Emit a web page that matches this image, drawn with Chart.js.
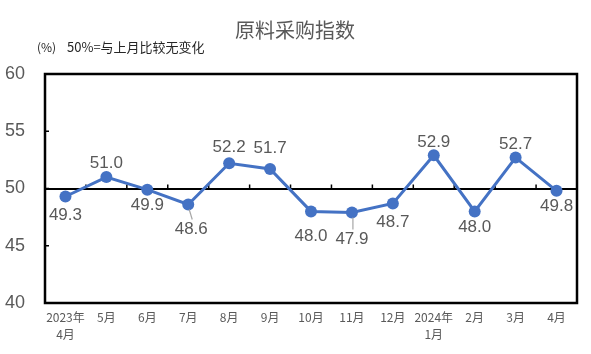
<!DOCTYPE html>
<html>
<head>
<meta charset="utf-8">
<script src="https://cdn.jsdelivr.net/npm/chart.js@4/dist/chart.umd.min.js"></script>
<style>
  html, body { margin: 0; padding: 0; background: #fff; }
  #wrap { width: 591px; height: 354px; }
</style>
</head>
<body>
<div id="wrap"><canvas id="chart" width="591" height="354"></canvas></div>
<script>
// data
var months = [['2023年', '4月'], '5月', '6月', '7月', '8月', '9月', '10月', '11月', '12月', ['2024年', '1月'], '2月', '3月', '4月'];
var pmiValues = [49.3, 51.0, 49.9, 48.6, 52.2, 51.7, 48.0, 47.9, 48.7, 52.9, 48.0, 52.7, 49.8];
var yTicks = [40, 45, 50, 55, 60];

var chartTitle = '原料采购指数';
var unitNote = '(%)';
var baseNote = '50%=与上月比较无变化';

// label offsets (px from the point), leader lines where Excel drew them
var labelDy = [19, -14, 16, 25, -16, -21, 25, 27, 19, -13, 16, -13, 16];
var labelDx = [0, 0, 0, 3, 0, 0, 0, 0, 0, 0, 0, 0, 0];
var leader = [false, false, false, true, false, false, false, true, false, false, false, false, false];

var boxPlugin = {
  id: 'boxPlugin',
  beforeDatasetsDraw: function(chart) {
    var ctx = chart.ctx, a = chart.chartArea;
    var x = chart.scales.x, y = chart.scales.y;
    var y50 = y.getPixelForValue(50);
    ctx.save();
    ctx.strokeStyle = '#000';
    ctx.lineWidth = 1.5;
    // small ticks on the 50 line between categories
    ctx.beginPath();
    for (var i = 1; i < months.length; i++) {
      var bx = (x.getPixelForValue(i - 1) + x.getPixelForValue(i)) / 2;
      ctx.moveTo(bx, y50);
      ctx.lineTo(bx, y50 - 4);
    }
    // inward ticks on the left edge
    yTicks.forEach(function(v) {
      var py = y.getPixelForValue(v);
      ctx.moveTo(a.left, py);
      ctx.lineTo(a.left + 4, py);
    });
    ctx.stroke();
    ctx.lineWidth = 2.5;
    ctx.strokeRect(a.left, a.top, a.right - a.left, a.bottom - a.top);
    ctx.restore();
  },
  afterDatasetsDraw: function(chart) {
    var ctx = chart.ctx;
    var meta = chart.getDatasetMeta(0);
    ctx.save();
    ctx.font = '17px "Liberation Sans", Arial, sans-serif';
    ctx.fillStyle = '#595959';
    ctx.textAlign = 'center';
    ctx.textBaseline = 'middle';
    meta.data.forEach(function(pt, i) {
      var lx = pt.x + labelDx[i], ly = pt.y + labelDy[i];
      if (leader[i]) {
        ctx.strokeStyle = '#a6a6a6';
        ctx.lineWidth = 1.2;
        ctx.beginPath();
        ctx.moveTo(pt.x + 1, pt.y + 5);
        ctx.lineTo(lx + 1, ly - 10);
        ctx.stroke();
      }
      ctx.fillText(pmiValues[i].toFixed(1), lx, ly);
    });
    // titles
    ctx.fillStyle = '#595959';
    ctx.font = '20px "Noto Sans CJK SC", sans-serif';
    ctx.fillText(chartTitle, 295, 30);
    ctx.fillStyle = '#262626';
    ctx.textAlign = 'left';
    ctx.font = '12px "Noto Sans CJK SC", sans-serif';
    ctx.fillText(unitNote, 37, 47);
    ctx.font = '13px "Noto Sans CJK SC", sans-serif';
    ctx.fillText(baseNote, 67, 47);
    ctx.restore();
  }
};

new Chart(document.getElementById('chart').getContext('2d'), {
  type: 'line',
  data: {
    labels: months,
    datasets: [{
      data: pmiValues,
      borderColor: '#4472C4',
      backgroundColor: '#4472C4',
      borderWidth: 3,
      pointRadius: 6,
      pointBackgroundColor: '#4472C4',
      pointBorderWidth: 0,
      tension: 0
    }]
  },
  options: {
    responsive: false,
    animation: false,
    layout: { padding: { top: 74, right: 14, left: 0, bottom: 0 } },
    plugins: {
      legend: { display: false },
      tooltip: { enabled: false }
    },
    scales: {
      x: {
        offset: true,
        grid: { display: false, drawTicks: false },
        border: { display: false },
        ticks: {
          color: '#595959',
          font: { size: 12, family: '"Noto Sans CJK SC", sans-serif', lineHeight: 1.4 },
          padding: 6,
          maxRotation: 0,
          autoSkip: false
        },
        afterFit: function(s) { s.height = 51; }
      },
      y: {
        min: 40,
        max: 60,
        border: { display: false },
        grid: {
          drawTicks: false,
          lineWidth: 2,
          color: function(c) { return c.tick && c.tick.value === 50 ? '#000' : 'rgba(0,0,0,0)'; }
        },
        ticks: {
          stepSize: 5,
          color: '#595959',
          font: { size: 18, family: '"Liberation Sans", Arial, sans-serif' },
          padding: 20
        },
        afterFit: function(s) { s.width = 45; }
      }
    }
  },
  plugins: [boxPlugin]
});
</script>
</body>
</html>
